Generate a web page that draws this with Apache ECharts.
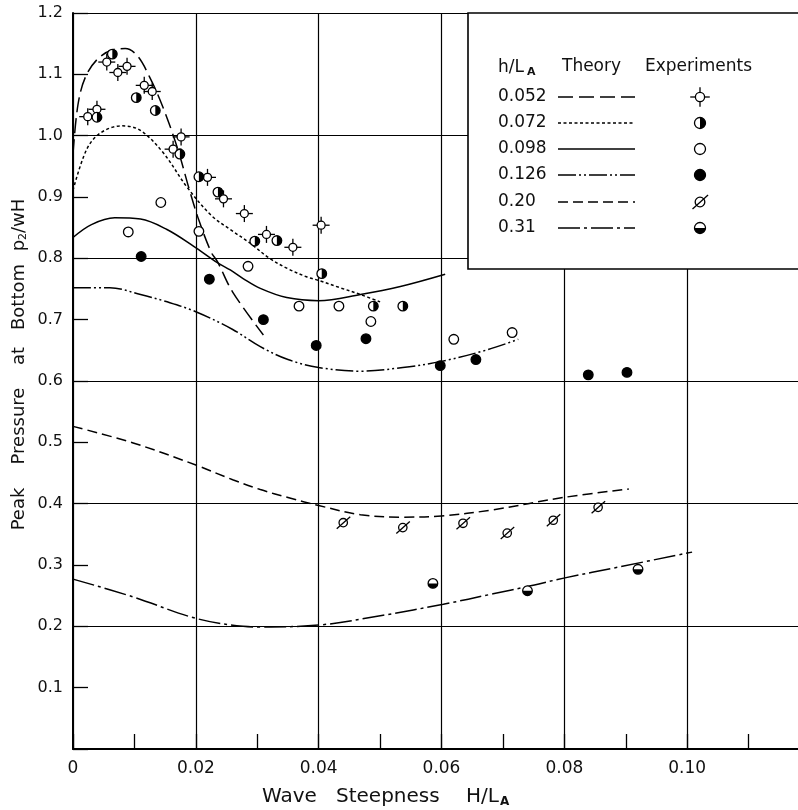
<!DOCTYPE html>
<html><head><meta charset="utf-8">
<script src="https://cdn.jsdelivr.net/npm/echarts@6/dist/echarts.min.js"></script>
<style>html,body{margin:0;padding:0;background:#fff}#c{width:798px;height:810px}</style>
</head><body><div id="c"></div>
<script>
// ---- tick labels ----
const xTickLabels = ['0', '0.02', '0.04', '0.06', '0.08', '0.10'];
const yTickLabels = ['', '0.1', '0.2', '0.3', '0.4', '0.5', '0.6', '0.7', '0.8', '0.9', '1.0', '1.1', '1.2'];
const legendLabels = ['0.052', '0.072', '0.098', '0.126', '0.20', '0.31'];

// ---- theory curves ----
const th052X = [0, 0.0008, 0.002, 0.004, 0.0065, 0.0085, 0.0105, 0.0125, 0.0145, 0.017, 0.019, 0.0205, 0.0225, 0.0235, 0.026, 0.031];
const th052Y = [0.97, 1.05, 1.095, 1.125, 1.14, 1.142, 1.13, 1.095, 1.05, 0.98, 0.91, 0.862, 0.81, 0.795, 0.745, 0.675];
const th072X = [0, 0.0022, 0.0044, 0.0079, 0.0109, 0.0147, 0.0185, 0.0225, 0.0256, 0.0288, 0.032, 0.035, 0.038, 0.040, 0.0435, 0.0468, 0.050];
const th072Y = [0.911, 0.977, 1.004, 1.016, 1.009, 0.972, 0.917, 0.87, 0.847, 0.825, 0.80, 0.783, 0.77, 0.764, 0.752, 0.741, 0.729];
const th098X = [0, 0.003, 0.0068, 0.011, 0.0153, 0.0196, 0.0235, 0.0256, 0.0277, 0.0305, 0.0348, 0.040, 0.0468, 0.0533, 0.0606];
const th098Y = [0.834, 0.855, 0.866, 0.864, 0.847, 0.82, 0.793, 0.781, 0.767, 0.751, 0.736, 0.731, 0.741, 0.754, 0.774];
const th126X = [0, 0.006, 0.011, 0.015, 0.020, 0.026, 0.0305, 0.035, 0.040, 0.0468, 0.0537, 0.060, 0.0675, 0.0725];
const th126Y = [0.752, 0.752, 0.741, 0.73, 0.713, 0.684, 0.656, 0.635, 0.622, 0.616, 0.622, 0.632, 0.651, 0.668];
const th20X = [0, 0.0098, 0.020, 0.026, 0.0305, 0.035, 0.040, 0.0468, 0.0537, 0.060, 0.0684, 0.0798, 0.0905];
const th20Y = [0.526, 0.499, 0.463, 0.439, 0.423, 0.41, 0.397, 0.382, 0.378, 0.38, 0.39, 0.41, 0.424];
const th31X = [0, 0.0098, 0.020, 0.0277, 0.0305, 0.040, 0.0505, 0.0603, 0.0684, 0.074, 0.0801, 0.089, 0.1008];
const th31Y = [0.277, 0.248, 0.213, 0.2, 0.199, 0.202, 0.218, 0.236, 0.253, 0.265, 0.279, 0.297, 0.321];

// ---- experiments ----
const ex052X = [0.0024, 0.0039, 0.0055, 0.0073, 0.0088, 0.0116, 0.0129, 0.0163, 0.0176, 0.0219, 0.0245, 0.0279, 0.0315, 0.0358, 0.0404];
const ex052Y = [1.031, 1.043, 1.12, 1.103, 1.113, 1.082, 1.072, 0.978, 0.998, 0.932, 0.897, 0.873, 0.839, 0.818, 0.854];
const ex072X = [0.0039, 0.0064, 0.0103, 0.0134, 0.0174, 0.0205, 0.0236, 0.0296, 0.0332, 0.0405, 0.0489, 0.0537];
const ex072Y = [1.030, 1.133, 1.062, 1.041, 0.970, 0.933, 0.908, 0.828, 0.829, 0.775, 0.722, 0.722];
const ex098X = [0.009, 0.0143, 0.0205, 0.0285, 0.0368, 0.0433, 0.0485, 0.062, 0.0715];
const ex098Y = [0.843, 0.891, 0.844, 0.787, 0.722, 0.722, 0.697, 0.668, 0.679];
const ex126X = [0.0111, 0.0222, 0.031, 0.0396, 0.0477, 0.0598, 0.0656, 0.0839, 0.0902];
const ex126Y = [0.803, 0.766, 0.70, 0.658, 0.669, 0.625, 0.635, 0.610, 0.614];
const ex20X = [0.044, 0.0537, 0.0635, 0.0707, 0.0782, 0.0855];
const ex20Y = [0.369, 0.361, 0.368, 0.352, 0.373, 0.394];
const ex31X = [0.0586, 0.074, 0.092];
const ex31Y = [0.270, 0.258, 0.293];

const FONT = 'DejaVu Sans';
const INK = '#111';
const zip = (a, b) => a.map((v, i) => [v, b[i]]);

function markerEl(kind, cx, cy, z, s) {
  s = s || 1;
  const lw = 1.3, r = 4.8 * s;
  const ch = [];
  const circ = (fill) => ({type: 'circle', z: z, shape: {cx: cx, cy: cy, r: r}, style: {fill: fill, stroke: '#000', lineWidth: lw}});
  const ln = (x1, y1, x2, y2) => ({type: 'line', z: z, shape: {x1: cx + x1 * s, y1: cy + y1 * s, x2: cx + x2 * s, y2: cy + y2 * s}, style: {stroke: '#000', lineWidth: lw}});
  if (kind === 'cross') {
    const rc = 4;
    ch.push({type: 'circle', z: z, shape: {cx: cx, cy: cy, r: rc * s}, style: {fill: '#fff', stroke: '#000', lineWidth: lw}});
    ch.push(ln(-8.5, 0, -rc, 0), ln(rc, 0, 8.5, 0), ln(0, -8.5, 0, -rc), ln(0, rc, 0, 8.5));
  } else if (kind === 'halfRight') {
    ch.push(circ('#fff'));
    ch.push({type: 'sector', z: z, shape: {cx: cx, cy: cy, r0: 0, r: r, startAngle: -Math.PI / 2, endAngle: Math.PI / 2, clockwise: true}, style: {fill: '#000'}});
  } else if (kind === 'open') {
    ch.push(circ('#fff'));
  } else if (kind === 'filled') {
    ch.push(circ('#000'));
  } else if (kind === 'slash') {
    ch.push({type: 'circle', z: z, shape: {cx: cx, cy: cy, r: 4.2 * s}, style: {fill: '#fff', stroke: '#000', lineWidth: lw}});
    ch.push(ln(-6.5, 6, 7, -6));
  } else if (kind === 'halfBottom') {
    ch.push(circ('#fff'));
    ch.push({type: 'sector', z: z, shape: {cx: cx, cy: cy, r0: 0, r: r, startAngle: 0, endAngle: Math.PI, clockwise: true}, style: {fill: '#000'}});
  }
  return {type: 'group', children: ch};
}

const kinds = ['cross', 'halfRight', 'open', 'filled', 'slash', 'halfBottom'];
const dashes = [[15, 6], [3, 2.5], 'solid', [18, 3, 2, 3, 2, 3], [10, 5], [22, 4, 3, 4]];
const theory = [[th052X, th052Y], [th072X, th072Y], [th098X, th098Y], [th126X, th126Y], [th20X, th20Y], [th31X, th31Y]];
const exps = [[ex052X, ex052Y], [ex072X, ex072Y], [ex098X, ex098Y], [ex126X, ex126Y], [ex20X, ex20Y], [ex31X, ex31Y]];

const series = [];
theory.forEach((t, i) => {
  series.push({
    type: 'line', name: 'th' + legendLabels[i], data: zip(t[0], t[1]),
    showSymbol: false, symbol: 'none', smooth: 0.35, z: 2,
    lineStyle: {color: '#000', width: 1.5, type: dashes[i]}
  });
});
exps.forEach((e, i) => {
  series.push({
    type: 'custom', name: 'ex' + legendLabels[i], data: zip(e[0], e[1]), z: 5,
    encode: {x: 0, y: 1},
    renderItem: function (params, api) {
      const p = api.coord([api.value(0), api.value(1)]);
      return markerEl(kinds[i], p[0], p[1], 5, 1);
    }
  });
});

// ---- legend & titles via graphic ----
const graphics = [];
const LX = 468, LY = 13;
graphics.push({type: 'rect', z: 100, shape: {x: LX, y: LY, width: 360, height: 256}, style: {fill: '#fff', stroke: '#000', lineWidth: 1.6}});
const rich = {
  n: {fontFamily: FONT, fontSize: 17, fill: INK},
  s: {fontFamily: FONT, fontSize: 11, fill: INK, fontWeight: 'bold', padding: [9, 0, 0, 3]}
};
graphics.push({type: 'text', z: 101, x: 498, y: 68, style: {text: '{n|h/L}{s|A}', rich: rich, verticalAlign: 'middle'}});
graphics.push({type: 'text', z: 101, x: 562, y: 67, style: {text: 'Theory', fontFamily: FONT, fontSize: 17, fill: INK, verticalAlign: 'middle'}});
graphics.push({type: 'text', z: 101, x: 645, y: 67, style: {text: 'Experiments', fontFamily: FONT, fontSize: 17, fill: INK, verticalAlign: 'middle'}});
const rowY = [97, 123, 149, 175, 202, 228];
legendLabels.forEach((lab, i) => {
  const y = rowY[i];
  graphics.push({type: 'text', z: 101, x: 498, y: y, style: {text: lab, fontFamily: FONT, fontSize: 17, fill: INK, verticalAlign: 'middle'}});
  graphics.push({type: 'line', z: 101, shape: {x1: 558, y1: y, x2: 635, y2: y}, style: {stroke: '#000', lineWidth: 1.5, lineDash: dashes[i] === 'solid' ? null : dashes[i]}});
  const m = markerEl(kinds[i], 700, y, 102, 1.15);
  m.z = 102;
  graphics.push(m);
});
// axis titles
const ttl = {fontFamily: FONT, fontSize: 20, fill: INK, verticalAlign: 'middle'};
graphics.push({type: 'text', x: 262, y: 797, style: Object.assign({text: 'Wave'}, ttl)});
graphics.push({type: 'text', x: 336, y: 797, style: Object.assign({text: 'Steepness'}, ttl)});
graphics.push({type: 'text', x: 466, y: 797, style: {text: '{n|H/L}{s|A}', verticalAlign: 'middle', rich: {
  n: {fontFamily: FONT, fontSize: 20, fill: INK},
  s: {fontFamily: FONT, fontSize: 12, fill: INK, fontWeight: 'bold', padding: [9, 0, 0, 1]}
}}});
const yt = {fontFamily: FONT, fontSize: 18, fill: INK, align: 'center', verticalAlign: 'middle'};
[['Peak', 509], ['Pressure', 426], ['at', 356], ['Bottom', 297]].forEach(w => {
  graphics.push({type: 'text', x: 19, y: w[1], rotation: Math.PI / 2, style: Object.assign({text: w[0]}, yt)});
});
graphics.push({type: 'text', x: 19, y: 225, rotation: Math.PI / 2, style: {text: '{n|p}{s|2}{n|/wH}', align: 'center', verticalAlign: 'middle', rich: {
  n: {fontFamily: FONT, fontSize: 18, fill: INK},
  s: {fontFamily: FONT, fontSize: 11, fill: INK, padding: [9, 0, 0, 0]}
}}});

const chart = echarts.init(document.getElementById('c'), null, {renderer: 'canvas'});
chart.setOption({
  animation: false,
  backgroundColor: '#fff',
  grid: {left: 73, top: 13, width: 737, bottom: 61, containLabel: false, outerBoundsMode: 'none'},
  xAxis: {
    type: 'value', min: 0, max: 0.12, interval: 0.02,
    axisLine: {show: true, lineStyle: {color: '#000', width: 2}},
    axisTick: {show: true, inside: true, length: 15, lineStyle: {color: '#000', width: 1.3}},
    minorTick: {show: true, splitNumber: 2, length: 15, lineStyle: {color: '#000', width: 1.3}},
    splitLine: {show: true, lineStyle: {color: '#000', width: 1.2}},
    axisLabel: {
      margin: 11, fontFamily: FONT, fontSize: 17, color: INK,
      formatter: function (v) { const k = Math.round(v / 0.02); return (Math.abs(v - k * 0.02) < 1e-6 && xTickLabels[k] !== undefined) ? xTickLabels[k] : ''; }
    }
  },
  yAxis: [{
    type: 'value', min: 0, max: 1.2, interval: 0.1,
    axisLine: {show: true, lineStyle: {color: '#000', width: 2}},
    axisTick: {show: true, inside: true, length: 15, lineStyle: {color: '#000', width: 1.3}},
    splitLine: {show: false},
    axisLabel: {
      margin: 10, fontFamily: FONT, fontSize: 16, color: INK,
      formatter: function (v) { const k = Math.round(v / 0.1); return yTickLabels[k] || ''; }
    }
  }, {
    type: 'value', min: 0, max: 1.2, interval: 0.2, position: 'left',
    axisLine: {show: false}, axisTick: {show: false}, axisLabel: {show: false},
    splitLine: {show: true, lineStyle: {color: '#000', width: 1.2}}
  }],
  series: series,
  graphic: graphics
});
</script></body></html>
